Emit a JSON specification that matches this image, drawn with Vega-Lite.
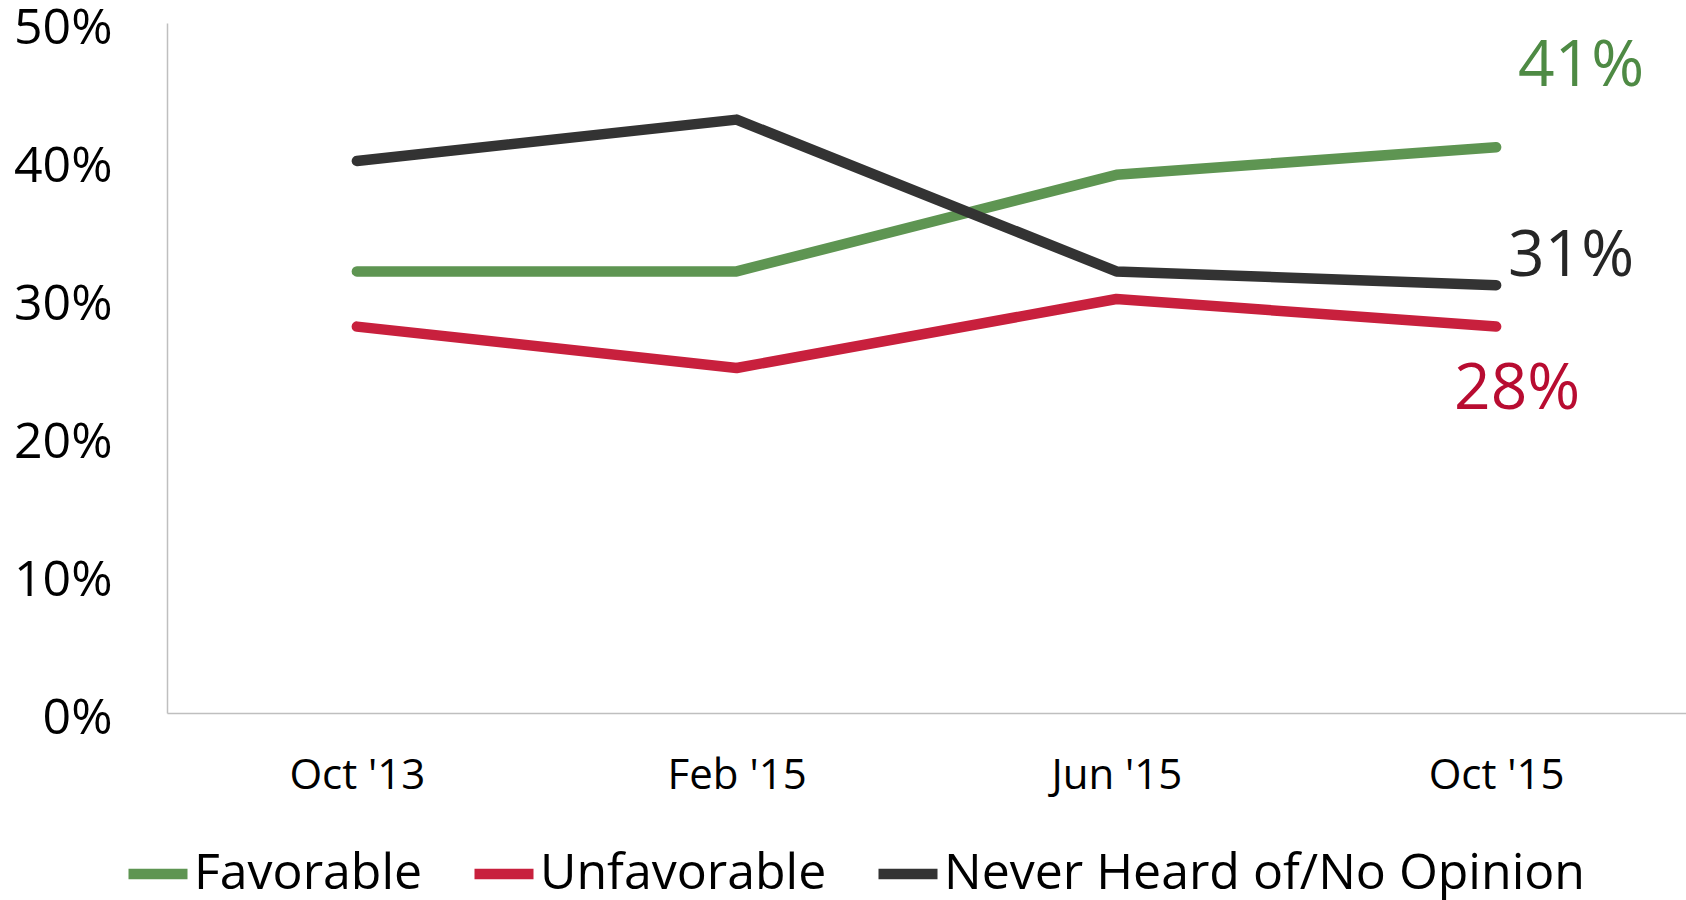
{
  "$schema": "https://vega.github.io/schema/vega-lite/v6.json",
  "width": 1519,
  "height": 690,
  "autosize": {"type": "none"},
  "padding": {"left": 167, "top": 23, "right": 0, "bottom": 187},
  "background": "white",
  "config": {
    "view": {"stroke": null},
    "font": "Open Sans",
    "axis": {"grid": false, "ticks": false, "domainColor": "#BFBFBF", "domainWidth": 1.5, "labelColor": "#000000", "labelFont": "Open Sans", "title": null}
  },
  "data": {
    "values": [
      {"i": 1, "date": "Oct '13", "series": "Favorable", "value": 0.32},
      {"i": 2, "date": "Feb '15", "series": "Favorable", "value": 0.32},
      {"i": 3, "date": "Jun '15", "series": "Favorable", "value": 0.39},
      {"i": 4, "date": "Oct '15", "series": "Favorable", "value": 0.41},
      {"i": 1, "date": "Oct '13", "series": "Unfavorable", "value": 0.28},
      {"i": 2, "date": "Feb '15", "series": "Unfavorable", "value": 0.25},
      {"i": 3, "date": "Jun '15", "series": "Unfavorable", "value": 0.30},
      {"i": 4, "date": "Oct '15", "series": "Unfavorable", "value": 0.28},
      {"i": 1, "date": "Oct '13", "series": "Never Heard of/No Opinion", "value": 0.40},
      {"i": 2, "date": "Feb '15", "series": "Never Heard of/No Opinion", "value": 0.43},
      {"i": 3, "date": "Jun '15", "series": "Never Heard of/No Opinion", "value": 0.32},
      {"i": 4, "date": "Oct '15", "series": "Never Heard of/No Opinion", "value": 0.31}
    ]
  },
  "encoding": {
    "x": {
      "field": "date", "type": "ordinal", "sort": ["Oct '13", "Feb '15", "Jun '15", "Oct '15"],
      "scale": {"type": "point", "padding": 0.5},
      "axis": {"labelAngle": 0, "labelFontSize": 42, "labelPadding": 42, "labelBaseline": "top"}
    },
    "y": {
      "field": "value", "type": "quantitative",
      "scale": {"domain": [0, 0.5], "nice": false, "zero": true},
      "axis": {"values": [0, 0.1, 0.2, 0.3, 0.4, 0.5], "format": ".0%", "labelFontSize": 50, "labelPadding": 55, "labelBaseline": "middle", "labelOffset": 5, "labelFlush": false, "labelOverlap": false}
    }
  },
  "layer": [
    {
      "mark": {"type": "line", "strokeCap": "round", "strokeJoin": "round"},
      "encoding": {
        "color": {
          "field": "series", "type": "nominal",
          "scale": {"domain": ["Favorable", "Unfavorable", "Never Heard of/No Opinion"], "range": ["#5E9552", "#C8203D", "#333333"]},
          "legend": {
            "title": null, "orient": "none", "direction": "horizontal", "legendX": -44, "legendY": 816,
            "symbolType": "stroke", "symbolSize": 3481, "symbolStrokeWidth": 10,
            "labelFontSize": 50, "labelFont": "Open Sans", "labelColor": "#000000", "labelOffset": 1, "labelLimit": 1000,
            "columnPadding": 30, "labelBaseline": "middle"
          }
        },
        "strokeWidth": {
          "field": "series", "type": "nominal",
          "scale": {"domain": ["Favorable", "Unfavorable", "Never Heard of/No Opinion"], "range": [10.5, 10.5, 8]},
          "legend": null
        },
        "order": {"field": "i", "type": "quantitative"}
      }
    },
    {
      "transform": [{"filter": "datum.series === 'Favorable' && datum.i === 4"}],
      "mark": {"type": "text", "fontSize": 64, "font": "Open Sans", "color": "#4E8A44", "dx": 85, "dy": -80, "baseline": "middle", "align": "center"},
      "encoding": {"text": {"field": "value", "type": "quantitative", "format": ".0%"}}
    },
    {
      "transform": [{"filter": "datum.series === 'Never Heard of/No Opinion' && datum.i === 4"}],
      "mark": {"type": "text", "fontSize": 64, "font": "Open Sans", "color": "#262626", "dx": 75, "dy": -28, "baseline": "middle", "align": "center"},
      "encoding": {"text": {"field": "value", "type": "quantitative", "format": ".0%"}}
    },
    {
      "transform": [{"filter": "datum.series === 'Unfavorable' && datum.i === 4"}],
      "mark": {"type": "text", "fontSize": 64, "font": "Open Sans", "color": "#B80C31", "dx": 21, "dy": 63, "baseline": "middle", "align": "center"},
      "encoding": {"text": {"field": "value", "type": "quantitative", "format": ".0%"}}
    }
  ]
}
